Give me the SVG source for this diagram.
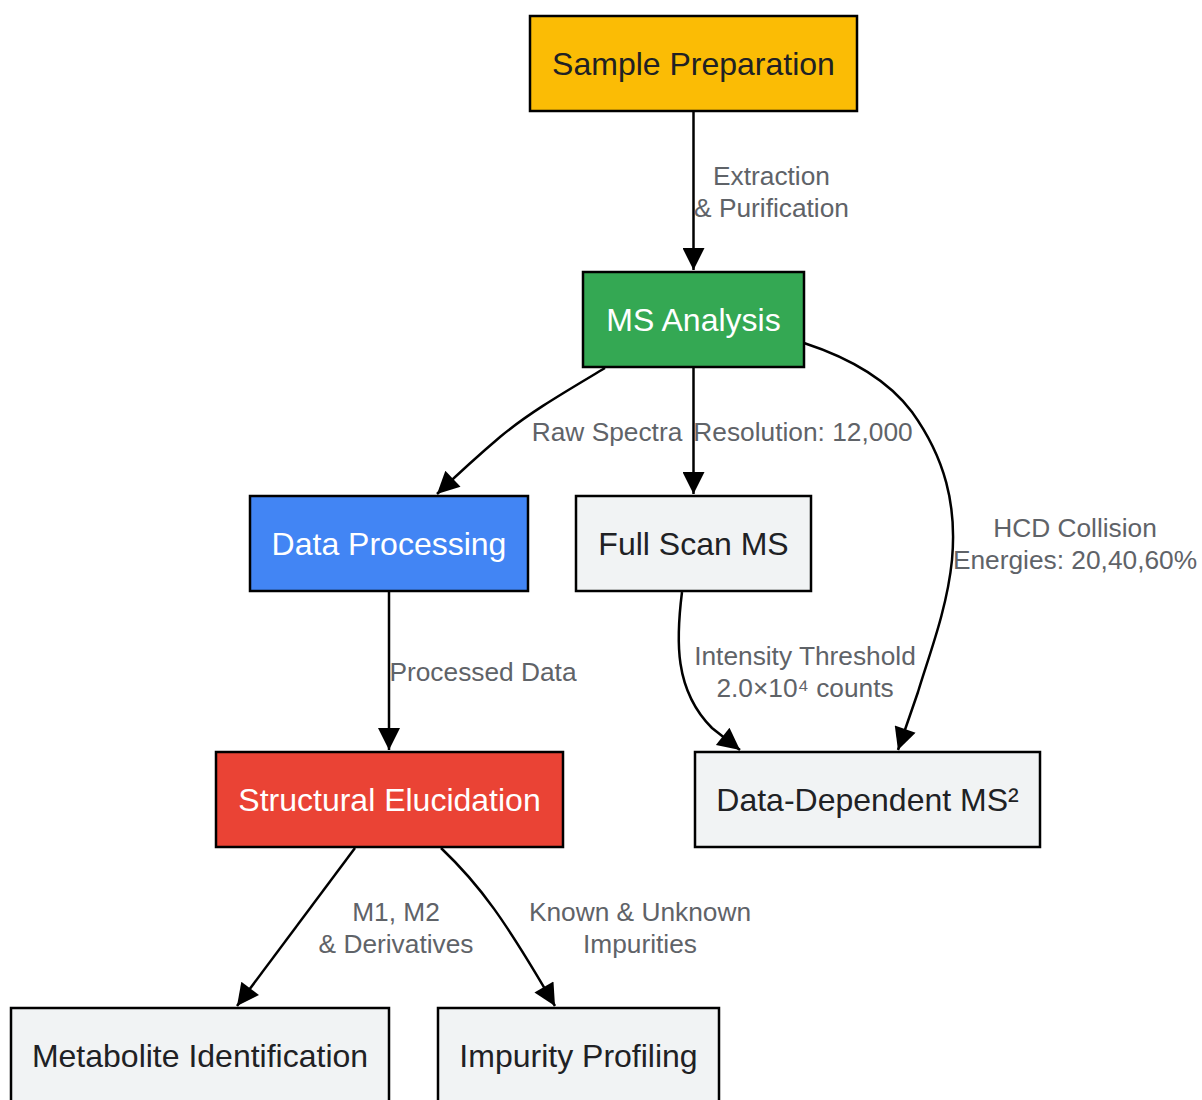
<svg xmlns="http://www.w3.org/2000/svg" width="1202" height="1100" viewBox="0 0 1202 1100">
<style>
.node rect{stroke:#000;stroke-width:2.5}
.nt{font-family:"Liberation Sans",Arial,sans-serif;font-size:32px;text-anchor:middle}
.dark{fill:#202124}
.light{fill:#ffffff}
.edge{fill:none;stroke:#000;stroke-width:2.5;marker-end:url(#arr)}
.el{font-family:"Liberation Sans",Arial,sans-serif;font-size:26.3px;fill:#5f6368;text-anchor:middle}
</style>
<defs>
<marker id="arr" viewBox="0 0 10 10" refX="10" refY="5" markerWidth="29" markerHeight="22" markerUnits="userSpaceOnUse" orient="auto">
<path d="M0,0 L10,5 L0,10 z" fill="#000"/>
</marker>
</defs>
<rect width="1202" height="1100" fill="#ffffff"/>
<g id="connectors">
<path class="edge" d="M693.5,111 L693.5,270"/>
<path class="edge" d="M605,368 C565,392 530,412 500,437 C480,454 458,474 437,494"/>
<path class="edge" d="M693.5,368 L693.5,494"/>
<path class="edge" d="M804,343 C850,358 888,380 912,412 C945,458 957,505 952,560 C947,610 928,658 918,692 L898,750"/>
<path class="edge" d="M682,592 C676,640 674,690 712,728 L740,750"/>
<path class="edge" d="M389,591 L389,750"/>
<path class="edge" d="M355,848 L237,1006"/>
<path class="edge" d="M441,848 C480,885 505,920 555,1006"/>
<g id="edge-labels">
<text class="el" x="771.5" y="185">Extraction</text>
<text class="el" x="771.5" y="217">&amp; Purification</text>
<text class="el" x="607" y="441">Raw Spectra</text>
<text class="el" x="803" y="441">Resolution: 12,000</text>
<text class="el" x="1075" y="537">HCD Collision</text>
<text class="el" x="1075" y="569">Energies: 20,40,60%</text>
<text class="el" x="805" y="665">Intensity Threshold</text>
<text class="el" x="805" y="697">2.0×10⁴ counts</text>
<text class="el" x="483" y="681">Processed Data</text>
<text class="el" x="396" y="921">M1, M2</text>
<text class="el" x="396" y="953">&amp; Derivatives</text>
<text class="el" x="640" y="921">Known &amp; Unknown</text>
<text class="el" x="640" y="953">Impurities</text>
</g>
</g>
<g id="sample-preparation" class="node">
<rect x="530" y="16" width="327" height="95" fill="#FBBC05"/>
<text class="nt dark" x="693.5" y="75">Sample Preparation</text>
</g>
<g id="ms-analysis" class="node">
<rect x="583" y="272" width="221" height="95" fill="#34A853"/>
<text class="nt light" x="693.5" y="331">MS Analysis</text>
</g>
<g id="data-processing" class="node">
<rect x="250" y="496" width="278" height="95" fill="#4285F4"/>
<text class="nt light" x="389" y="555">Data Processing</text>
</g>
<g id="full-scan-ms" class="node">
<rect x="576" y="496" width="235" height="95" fill="#F1F3F4"/>
<text class="nt dark" x="693.5" y="555">Full Scan MS</text>
</g>
<g id="structural-elucidation" class="node">
<rect x="216" y="752" width="347" height="95" fill="#EA4335"/>
<text class="nt light" x="389.5" y="811">Structural Elucidation</text>
</g>
<g id="data-dependent-ms2" class="node">
<rect x="695" y="752" width="345" height="95" fill="#F1F3F4"/>
<text class="nt dark" x="867.5" y="811">Data-Dependent MS²</text>
</g>
<g id="metabolite-identification" class="node">
<rect x="11" y="1008" width="378" height="95" fill="#F1F3F4"/>
<text class="nt dark" x="200" y="1067">Metabolite Identification</text>
</g>
<g id="impurity-profiling" class="node">
<rect x="438" y="1008" width="281" height="95" fill="#F1F3F4"/>
<text class="nt dark" x="578.5" y="1067">Impurity Profiling</text>
</g>
</svg>
